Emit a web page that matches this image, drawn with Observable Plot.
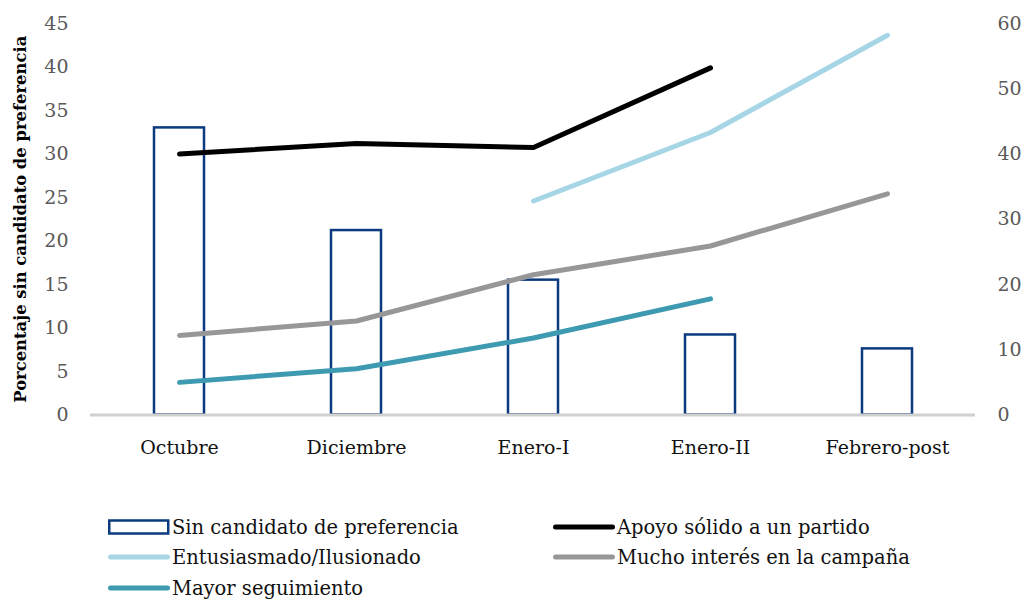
<!DOCTYPE html>
<html>
<head>
<meta charset="utf-8">
<script src="https://cdn.jsdelivr.net/npm/d3@7"></script>
<script src="https://cdn.jsdelivr.net/npm/@observablehq/plot@0.6"></script>
<style>
  body { margin: 0; background: #fff; }
  #wrap { width: 1026px; }
  #wrap svg { display: block; }
</style>
</head>
<body>
<div id="wrap"></div>
<script>
const categories = ["Octubre", "Diciembre", "Enero-I", "Enero-II", "Febrero-post"];
const sinCandidato = [33.0, 21.2, 15.5, 9.2, 7.6];
const apoyoSolido = [40.0, 41.6, 41.0, 53.2, null];
const entusiasmado = [null, null, 32.8, 43.3, 58.2];
const muchoInteres = [12.2, 14.4, 21.5, 25.9, 33.9];
const mayorSeguimiento = [5.0, 7.1, 11.8, 17.8, null];
const leftTicks = [0, 5, 10, 15, 20, 25, 30, 35, 40, 45];
const rightTicks = [0, 10, 20, 30, 40, 50, 60];

const seriesNames = ["Apoyo sólido a un partido", "Entusiasmado/Ilusionado", "Mucho interés en la campaña", "Mayor seguimiento"];
const seriesColors = ["#000000", "#a6d6e6", "#979797", "#3d9ab0"];
const seriesValues = [apoyoSolido, entusiasmado, muchoInteres, mayorSeguimiento];

const barData = categories.map((c, i) => ({cat: c, value: sinCandidato[i]}));
const lineData = seriesNames.flatMap((s, k) =>
  categories.map((c, i) => ({series: s, cat: c, value: seriesValues[k][i]})).filter(d => d.value != null));

const ratio = 45 / 60;
const FONT = "DejaVu Serif, serif";

const plot = Plot.plot({
  width: 1026,
  height: 470,
  marginLeft: 90,
  marginRight: 51,
  marginTop: 23,
  marginBottom: 55.5,
  style: {fontFamily: FONT, fontSize: "19px", background: "#fff"},
  x: {domain: categories, paddingInner: 0.72, paddingOuter: 0.36},
  y: {domain: [0, 45]},
  color: {domain: seriesNames, range: seriesColors},
  marks: [
    Plot.barY(barData, {x: "cat", y: "value", fill: "#fff", stroke: "#0b3a7e", strokeWidth: 2.5}),
    Plot.ruleY([0], {stroke: "#d0d0d0", strokeWidth: 3}),
    Plot.line(lineData, {x: "cat", y: d => d.value * ratio, z: "series", stroke: "series", strokeWidth: 5, strokeLinecap: "round", strokeLinejoin: "round"}),
    Plot.axisY(leftTicks, {anchor: "left", tickSize: 0, tickPadding: 22, fill: "#595959", label: "Porcentaje sin candidato de preferencia", labelAnchor: "center", labelArrow: "none", labelOffset: 76}),
    Plot.axisY(rightTicks.map(t => t * ratio), {anchor: "right", tickSize: 0, tickPadding: 22, fill: "#595959", tickFormat: d => String(Math.round(d / ratio)), label: null}),
    Plot.axisX({anchor: "bottom", tickSize: 0, tickPadding: 25, fill: "#111", label: null})
  ]
});
document.getElementById("wrap").appendChild(plot);

d3.select(plot).selectAll("text").filter(function() { return this.textContent === "Porcentaje sin candidato de preferencia"; })
  .style("font-weight", "bold").style("font-size", "16.4px").attr("fill", "#000");

// legend (SVG below the chart)
const legendItems = [
  {name: "Sin candidato de preferencia", type: "box", color: "#0b3a7e", x: 108, y: 57},
  {name: seriesNames[0], type: "line", color: seriesColors[0], x: 553, y: 57},
  {name: seriesNames[1], type: "line", color: seriesColors[1], x: 108, y: 87},
  {name: seriesNames[2], type: "line", color: seriesColors[2], x: 553, y: 87},
  {name: seriesNames[3], type: "line", color: seriesColors[3], x: 108, y: 118}
];
const leg = d3.select("#wrap").append("svg").attr("width", 1026).attr("height", 131)
  .style("font-family", FONT).style("font-size", "19.5px");
legendItems.forEach(it => {
  const g = leg.append("g").attr("transform", `translate(${it.x},${it.y})`);
  if (it.type === "box") {
    g.append("rect").attr("x", 1.25).attr("y", -6.5).attr("width", 59).attr("height", 13)
      .attr("fill", "#fff").attr("stroke", it.color).attr("stroke-width", 2.5);
  } else {
    g.append("line").attr("x1", 2.5).attr("x2", 59.5).attr("y1", 0).attr("y2", 0)
      .attr("stroke", it.color).attr("stroke-width", 5).attr("stroke-linecap", "round");
  }
  g.append("text").attr("x", 64).attr("y", 0).attr("dy", "0.35em").attr("fill", "#111").text(it.name);
});
</script>
</body>
</html>
